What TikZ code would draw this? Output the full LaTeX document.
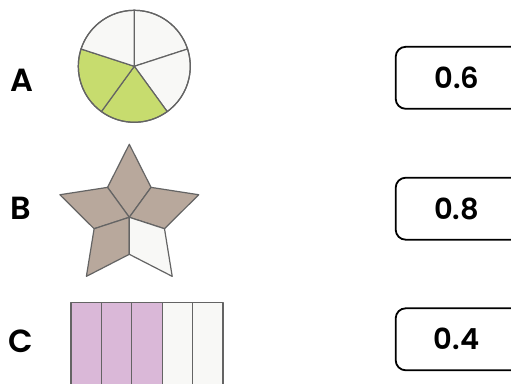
\documentclass[tikz,border=0pt]{standalone}
\usepackage{fontspec}
\setmainfont{Poppins}
\newfontfamily\semib{Poppins SemiBold}
\usetikzlibrary{calc}
\definecolor{pgreen}{RGB}{199,220,110}
\definecolor{pwhite}{RGB}{248,248,246}
\definecolor{pbrown}{RGB}{184,168,156}
\definecolor{ppurple}{RGB}{218,184,216}
\definecolor{pstroke}{RGB}{100,100,100}
\begin{document}
\begin{tikzpicture}[x=1pt,y=1pt,
  lbl/.style={font=\fontsize{32}{38}\selectfont\semib},
  ansnum/.style={inner sep=0pt,font=\fontsize{29}{35}\selectfont\semib},
  boxline/.style={draw=black,line width=1.8pt,rounded corners=10pt},
  part/.style={draw=pstroke,line width=1.2pt,line join=round}]
\clip (0,0) rectangle (511,383);
\fill[white] (0,0) rectangle (511,383);
% labels
\node[lbl] (la) at (21.5,303) {A};
\node[lbl] (lb) at (21,174.5) {B};
\node[lbl] (lc) at (21,41.5) {C};
% circle A
\coordinate (cc) at (134.3,316.7);
\foreach \a/\c in {90/pwhite,18/pwhite,-54/pgreen,-126/pgreen,162/pwhite}{
  \pgfmathsetmacro{\b}{\a-72}
  \filldraw[part,fill=\c] (cc) -- ++(\a:56) arc[start angle=\a,end angle=\b,radius=56] -- cycle;
}
\draw[part] (cc) circle[radius=56];
% star B
\coordinate (sc) at (129.3,165.7);
\foreach \o/\c in {90/pbrown,162/pbrown,18/pbrown,234/pbrown,306/pwhite}{
  \filldraw[part,fill=\c] (sc) -- ($(sc)+(\o+36:37)$) -- ($(sc)+(\o:73)$) -- ($(sc)+(\o-36:37)$) -- cycle;
}
% bar C
\foreach \i/\c in {0/ppurple,1/ppurple,2/ppurple,3/pwhite,4/pwhite}{
  \filldraw[part,fill=\c] (71+\i*30.4,-5) rectangle (71+\i*30.4+30.4,80.7);
}
% answer boxes
\node[ansnum] (b1) at (456.7,305.2) {0.6};
\node[ansnum] (b2) at (456.7,174.3) {0.8};
\node[ansnum] (b3) at (456.7,43.7) {0.4};
\foreach \n in {b1,b2,b3}{
  \draw[boxline] ($(\n.center)+(-61,-31)$) rectangle ($(\n.center)+(80,31)$);
}
\end{tikzpicture}
\end{document}
